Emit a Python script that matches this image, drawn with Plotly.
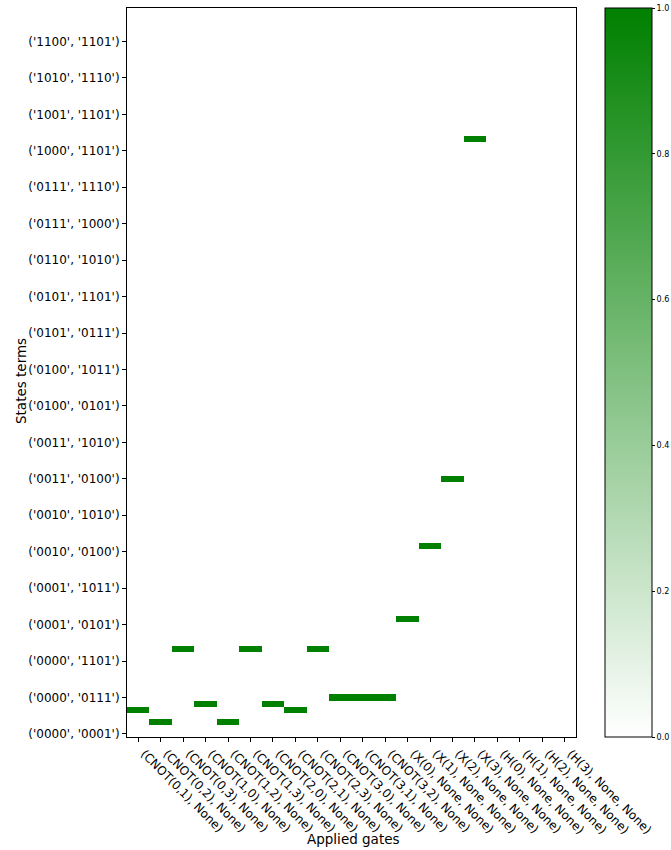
import itertools
import numpy as np
import plotly.graph_objects as go

# States (4 qubits) and all state-pair terms (rows)
states = [format(i, "04b") for i in range(16)]
state_pairs = list(itertools.combinations(states, 2))

# Applied gates (columns)
gates = [
    "(CNOT(0,1), None)", "(CNOT(0,2), None)", "(CNOT(0,3), None)",
    "(CNOT(1,0), None)", "(CNOT(1,2), None)", "(CNOT(1,3), None)",
    "(CNOT(2,0), None)", "(CNOT(2,1), None)", "(CNOT(2,3), None)",
    "(CNOT(3,0), None)", "(CNOT(3,1), None)", "(CNOT(3,2), None)",
    "(X(0), None, None)", "(X(1), None, None)", "(X(2), None, None)", "(X(3), None, None)",
    "(H(0), None, None)", "(H(1), None, None)", "(H(2), None, None)", "(H(3), None, None)",
]

# The state term activated by each gate (None = no term)
active_terms = [
    ("0000", "0101"), ("0000", "0011"), ("0000", "1111"),
    ("0000", "0110"), ("0000", "0011"), ("0000", "1111"),
    ("0000", "0110"), ("0000", "0101"), ("0000", "1111"),
    ("0000", "0111"), ("0000", "0111"), ("0000", "0111"),
    ("0001", "0110"), ("0010", "0101"), ("0011", "0100"), ("1000", "1111"),
    None, None, None, None,
]
active_values = [1.0] * 16 + [0.0] * 4

z = np.zeros((len(state_pairs), len(gates)))
for j, (term, val) in enumerate(zip(active_terms, active_values)):
    if term is not None:
        z[state_pairs.index(term), j] = val

tick_rows = list(range(0, len(state_pairs), 6))
tick_text = [str(state_pairs[i]) for i in tick_rows]

fig = go.Figure(go.Heatmap(
    z=z,
    x=list(range(len(gates))),
    y=list(range(len(state_pairs))),
    zmin=0, zmax=1,
    colorscale=[[0, "#ffffff"], [1, "#008000"]],
    xgap=0, ygap=0,
    colorbar=dict(
        x=(605 - 127) / 449, xanchor="left", xpad=0,
        y=0.5, yanchor="middle", len=1, lenmode="fraction", ypad=0,
        thickness=47, thicknessmode="pixels",
        outlinecolor="black", outlinewidth=1,
        tickvals=[0, 0.2, 0.4, 0.6, 0.8, 1.0],
        ticktext=["0.0", "0.2", "0.4", "0.6", "0.8", "1.0"],
        ticks="outside", ticklen=3, tickcolor="black",
        tickfont=dict(size=8, color="black"),
    ),
))

fig.update_layout(
    width=671, height=850,
    margin=dict(l=127, r=95, t=8, b=113, autoexpand=False),
    plot_bgcolor="white", paper_bgcolor="white",
    font=dict(family="DejaVu Sans", color="black"),
    xaxis=dict(
        range=[-0.5, len(gates) - 0.5],
        tickvals=list(range(len(gates))), ticktext=gates,
        tickangle=45, tickfont=dict(size=12), ticklabelshift=6,
        ticks="outside", ticklen=4, tickcolor="black",
        showline=True, linecolor="black", linewidth=1, mirror=True,
        showgrid=False, zeroline=False, automargin=False,
    ),
    yaxis=dict(
        range=[-0.5, len(state_pairs) - 0.5],
        tickvals=tick_rows, ticktext=tick_text,
        tickfont=dict(size=12),
        ticks="outside", ticklen=4, tickcolor="black",
        showline=True, linecolor="black", linewidth=1, mirror=True,
        showgrid=False, zeroline=False, automargin=False,
    ),
    annotations=[
        dict(text="Applied gates", xref="paper", yref="paper",
             x=(353 - 127) / 449, y=-(839 - 737) / 729, xanchor="center", yanchor="middle",
             showarrow=False, font=dict(size=13.5)),
        dict(text="States terms", xref="paper", yref="paper",
             x=-(127 - 21) / 449, y=(737 - 381) / 729, xanchor="center", yanchor="middle",
             textangle=-90, showarrow=False, font=dict(size=13.5)),
    ],
)

fig.write_html("out.html", config={"displayModeBar": False},
               post_script="document.body.style.margin='0';")
